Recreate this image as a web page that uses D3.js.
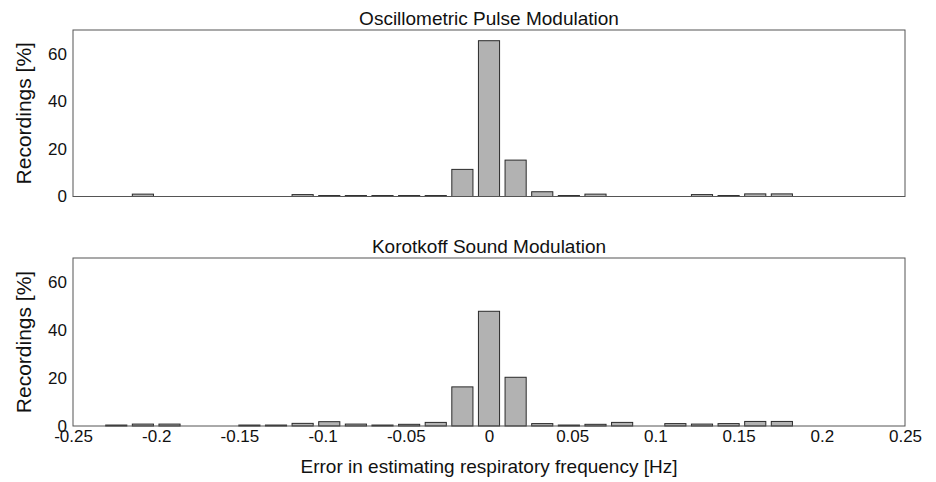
<!DOCTYPE html>
<html>
<head>
<meta charset="utf-8">
<script src="https://cdn.jsdelivr.net/npm/d3@7"></script>
<style>
  body { margin: 0; background: #fff; }
  text { font-family: "Liberation Sans", Arial, sans-serif; fill: #111; }
</style>
</head>
<body>
<script>
var w = 936;
var h = 482;

// bin centres of the error histogram [Hz]
var binCenters = [-0.224, -0.208, -0.192, -0.176, -0.160, -0.144, -0.128, -0.112, -0.096,
  -0.080, -0.064, -0.048, -0.032, -0.016, 0, 0.016, 0.032, 0.048, 0.064, 0.080,
  0.096, 0.112, 0.128, 0.144, 0.160, 0.176];

// Recordings [%] per bin
var oscillometric = [0, 1.0, 0, 0, 0, 0, 0, 0.8, 0.4, 0.4, 0.4, 0.4, 0.4, 11.4, 65.5,
  15.3, 2.0, 0.4, 1.0, 0, 0, 0, 0.8, 0.4, 1.1, 1.1];
var korotkoff = [0.4, 0.8, 0.8, 0, 0, 0.4, 0.4, 1.1, 1.8, 0.8, 0.4, 0.7, 1.5, 16.3, 47.8,
  20.3, 1.0, 0.4, 0.7, 1.5, 0, 1.0, 0.8, 1.0, 1.9, 1.9];

var xTicks = [-0.25, -0.2, -0.15, -0.1, -0.05, 0, 0.05, 0.1, 0.15, 0.2, 0.25];
var xTickLabels = ["-0.25", "-0.2", "-0.15", "-0.1", "-0.05", "0", "0.05", "0.1", "0.15", "0.2", "0.25"];
var yTicks = [0, 20, 40, 60];

var panels = [
  { title: "Oscillometric Pulse Modulation", values: oscillometric, top: 30, bottom: 196.5, xLabels: false },
  { title: "Korotkoff Sound Modulation", values: korotkoff, top: 258, bottom: 426, xLabels: true }
];

var binWidth = 0.0127;

var xScale = d3.scaleLinear()
  .domain([-0.25, 0.25])
  .range([73, 905]);

var svg = d3.select("body")
  .append("svg")
  .attr("width", w)
  .attr("height", h);

panels.forEach(function(p) {
  var yScale = d3.scaleLinear()
    .domain([0, 70])
    .range([p.bottom, p.top]);

  var g = svg.append("g");

  // bars
  var data = binCenters.map(function(c, i) { return [c, p.values[i]]; })
    .filter(function(d) { return d[1] > 0; });

  g.selectAll("rect")
    .data(data)
    .enter()
    .append("rect")
    .attr("x", function(d) { return xScale(d[0] - binWidth / 2); })
    .attr("width", function(d) { return xScale(d[0] + binWidth / 2) - xScale(d[0] - binWidth / 2); })
    .attr("y", function(d) { return yScale(d[1]); })
    .attr("height", function(d) { return yScale(0) - yScale(d[1]); })
    .attr("fill", "#b2b2b2")
    .attr("stroke", "#2a2a2a")
    .attr("stroke-width", 1);

  // box
  g.append("rect")
    .attr("x", xScale(-0.25))
    .attr("y", p.top)
    .attr("width", xScale(0.25) - xScale(-0.25))
    .attr("height", p.bottom - p.top)
    .attr("fill", "none")
    .attr("stroke", "#555")
    .attr("stroke-width", 1);

  // y axis
  var yAxis = d3.axisLeft(yScale)
    .tickValues(yTicks)
    .tickSize(0)
    .tickPadding(6);
  var ya = g.append("g")
    .attr("transform", "translate(" + xScale(-0.25) + ",0)")
    .call(yAxis);
  ya.select(".domain").remove();
  ya.selectAll("text").attr("font-size", 17).attr("fill", "#111");

  // x axis (bottom panel only)
  if (p.xLabels) {
    var xAxis = d3.axisBottom(xScale)
      .tickValues(xTicks)
      .tickFormat(function(d, i) { return xTickLabels[i]; })
      .tickSize(0)
      .tickPadding(4);
    var xa = g.append("g")
      .attr("transform", "translate(0," + p.bottom + ")")
      .call(xAxis);
    xa.select(".domain").remove();
    xa.selectAll("text").attr("font-size", 17).attr("fill", "#111");
  }

  // title
  g.append("text")
    .attr("x", xScale(0))
    .attr("y", p.top - 5)
    .attr("text-anchor", "middle")
    .attr("font-size", 19)
    .text(p.title);

  // y label
  g.append("text")
    .attr("transform", "translate(31," + ((p.top + p.bottom) / 2) + ") rotate(-90)")
    .attr("text-anchor", "middle")
    .attr("font-size", 21)
    .text("Recordings [%]");
});

// x label
svg.append("text")
  .attr("x", xScale(0))
  .attr("y", 473)
  .attr("text-anchor", "middle")
  .attr("font-size", 19)
  .text("Error in estimating respiratory frequency [Hz]");
</script>
</body>
</html>
